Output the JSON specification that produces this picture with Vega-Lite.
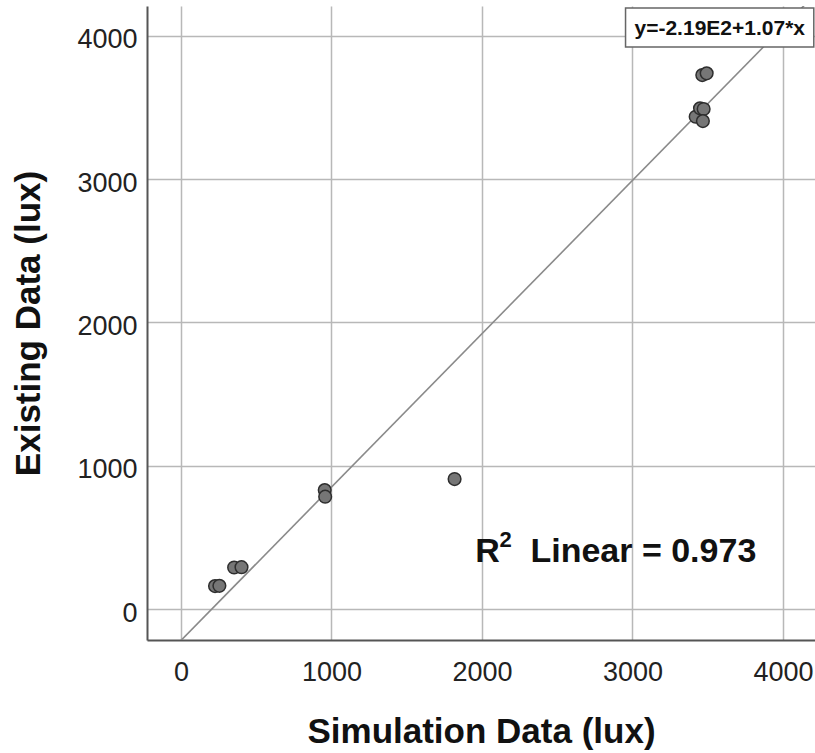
{
  "$schema": "https://vega.github.io/schema/vega-lite/v6.json",
  "width": 668,
  "height": 634,
  "autosize": "none",
  "padding": {"left": 147, "top": 6, "right": 0, "bottom": 113},
  "background": "white",
  "config": {
    "view": {"stroke": null},
    "font": "Liberation Sans",
    "axis": {
      "gridColor": "#b8b8b8",
      "gridWidth": 1.5,
      "domainColor": "#555555",
      "domainWidth": 2,
      "ticks": false,
      "labelFont": "Liberation Sans",
      "labelFontSize": 27,
      "labelColor": "#222222",
      "titleFont": "Liberation Sans",
      "titleFontSize": 35,
      "titleFontWeight": "bold",
      "titleColor": "#111111"
    }
  },
  "datasets": {
    "pts": [
      {"sim": 226, "exist": 160},
      {"sim": 255, "exist": 162},
      {"sim": 353, "exist": 290},
      {"sim": 402, "exist": 292},
      {"sim": 955, "exist": 830},
      {"sim": 958, "exist": 784},
      {"sim": 1818, "exist": 907},
      {"sim": 3420, "exist": 3435},
      {"sim": 3449, "exist": 3494},
      {"sim": 3473, "exist": 3489},
      {"sim": 3468, "exist": 3405},
      {"sim": 3464, "exist": 3726},
      {"sim": 3493, "exist": 3738}
    ],
    "fit": [
      {"sim": -226, "exist": -460.8},
      {"sim": 4213, "exist": 4288.9}
    ]
  },
  "layer": [
    {
      "data": {"name": "fit"},
      "mark": {"type": "line", "color": "#8a8a8a", "strokeWidth": 1.6, "clip": true},
      "encoding": {
        "x": {
          "field": "sim", "type": "quantitative",
          "scale": {"domain": [-226, 4213], "nice": false, "zero": false},
          "axis": {"values": [0, 1000, 2000, 3000, 4000], "format": "d", "title": "Simulation Data (lux)", "labelPadding": 19, "titlePadding": 29, "grid": true}
        },
        "y": {
          "field": "exist", "type": "quantitative",
          "scale": {"domain": [-216, 4208], "nice": false, "zero": false},
          "axis": {"values": [0, 1000, 2000, 3000, 4000], "format": "d", "title": "Existing Data (lux)", "labelPadding": 10, "labelOffset": 4, "titlePadding": 30, "grid": true}
        }
      }
    },
    {
      "data": {"name": "pts"},
      "mark": {"type": "point", "filled": true, "shape": "circle", "size": 160, "fill": "#767676", "stroke": "#2e2e2e", "strokeWidth": 1.5, "opacity": 1, "fillOpacity": 1},
      "encoding": {
        "x": {"field": "sim", "type": "quantitative"},
        "y": {"field": "exist", "type": "quantitative"}
      }
    },
    {
      "data": {"values": [{"a": 1}]},
      "mark": {"type": "rect", "fill": "white", "stroke": "#666666", "strokeWidth": 1.5},
      "encoding": {
        "x": {"datum": 2954, "type": "quantitative"},
        "x2": {"datum": 4205},
        "y": {"datum": 4194, "type": "quantitative"},
        "y2": {"datum": 3922}
      }
    },
    {
      "data": {"values": [{"label": "y=-2.19E2+1.07*x"}]},
      "mark": {"type": "text", "font": "Liberation Sans", "fontWeight": "bold", "fontSize": 21, "align": "center", "baseline": "middle", "color": "#111111"},
      "encoding": {
        "x": {"datum": 3580, "type": "quantitative"},
        "y": {"datum": 4045, "type": "quantitative"},
        "text": {"field": "label"}
      }
    },
    {
      "data": {"values": [{"label": "R"}]},
      "mark": {"type": "text", "font": "Liberation Sans", "fontWeight": "bold", "fontSize": 34, "align": "left", "baseline": "alphabetic", "color": "#111111"},
      "encoding": {
        "x": {"datum": 1956, "type": "quantitative"},
        "y": {"datum": 328, "type": "quantitative"},
        "text": {"field": "label"}
      }
    },
    {
      "data": {"values": [{"label": "2"}]},
      "mark": {"type": "text", "font": "Liberation Sans", "fontWeight": "bold", "fontSize": 22, "align": "left", "baseline": "alphabetic", "color": "#111111"},
      "encoding": {
        "x": {"datum": 2116, "type": "quantitative"},
        "y": {"datum": 433, "type": "quantitative"},
        "text": {"field": "label"}
      }
    },
    {
      "data": {"values": [{"label": "Linear = 0.973"}]},
      "mark": {"type": "text", "font": "Liberation Sans", "fontWeight": "bold", "fontSize": 34, "align": "left", "baseline": "alphabetic", "color": "#111111"},
      "encoding": {
        "x": {"datum": 2322, "type": "quantitative"},
        "y": {"datum": 328, "type": "quantitative"},
        "text": {"field": "label"}
      }
    }
  ]
}
